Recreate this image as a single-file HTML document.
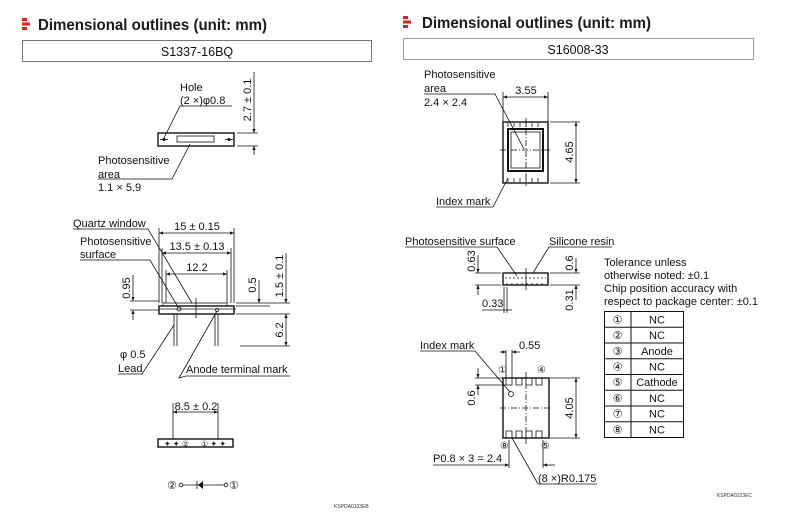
<!DOCTYPE html>
<html><head><style>
body{margin:0;background:#fff;}
svg{display:block;font-family:"Liberation Sans","DejaVu Sans",sans-serif;}
.t{font-size:11px;fill:#111;}
.h{font-size:15.5px;font-weight:bold;fill:#1a1a1a;font-family:"Liberation Sans",sans-serif;}
.l{stroke:#111;stroke-width:0.8;fill:none;}
.b{stroke:#111;stroke-width:1.4;fill:none;}
.tc{font-size:11px;fill:#111;text-anchor:middle;}
</style></head><body>
<svg width="792" height="518" viewBox="0 0 792 518">
<defs>
<marker id="a" markerWidth="6" markerHeight="6" refX="5" refY="3" orient="auto"><path d="M0,1 L5,3 L0,5 Z" fill="#111"/></marker>
<marker id="s" markerWidth="6" markerHeight="6" refX="1" refY="3" orient="auto"><path d="M6,1 L1,3 L6,5 Z" fill="#111"/></marker>
</defs>
<!-- headers -->
<rect x="22" y="18" width="5" height="3" fill="#d22"/><rect x="22" y="22.5" width="8" height="3" fill="#d22"/><rect x="22" y="27" width="5" height="3" fill="#d22"/>
<text x="38" y="30" class="h" textLength="229" lengthAdjust="spacingAndGlyphs">Dimensional outlines (unit: mm)</text>
<rect x="22.5" y="40.5" width="349" height="21" fill="none" stroke="#777"/>
<text x="197" y="56" class="tc" style="font-size:12.5px">S1337-16BQ</text>
<rect x="403" y="16" width="5" height="3" fill="#d22"/><rect x="403" y="20.5" width="8" height="3" fill="#d22"/><rect x="403" y="25" width="5" height="3" fill="#d22"/>
<text x="422" y="28" class="h" textLength="229" lengthAdjust="spacingAndGlyphs">Dimensional outlines (unit: mm)</text>
<rect x="403.5" y="38.5" width="350" height="21" fill="none" stroke="#999"/>
<text x="578" y="54" class="tc" style="font-size:12.5px">S16008-33</text>

<!-- LEFT top view -->
<rect x="158" y="133" width="76" height="13" class="b"/>
<rect x="177" y="136" width="37" height="6" class="l"/>
<circle cx="164" cy="139.5" r="1.5" fill="#111"/><circle cx="229" cy="139.5" r="1.5" fill="#111"/>
<line x1="160" y1="139.5" x2="168" y2="139.5" class="l"/><line x1="225" y1="139.5" x2="233" y2="139.5" class="l"/>
<text x="180" y="91" class="t">Hole</text>
<text x="180" y="104" class="t">(2 ×)φ0.8</text>
<polyline points="232,106 180,106 164,138" class="l"/>
<text x="98" y="164" class="t">Photosensitive</text>
<text x="98" y="178" class="t">area</text>
<text x="98" y="191" class="t">1.1 × 5.9</text>
<polyline points="98,179 172,179 190,144" class="l"/>
<line x1="237" y1="133" x2="258" y2="133" class="l"/><line x1="237" y1="146" x2="258" y2="146" class="l"/>
<line x1="254" y1="72" x2="254" y2="133" class="l" marker-end="url(#a)"/>
<line x1="254" y1="155" x2="254" y2="146" class="l" marker-end="url(#a)"/>
<text transform="translate(251,100) rotate(-90)" class="tc">2.7 ± 0.1</text>

<!-- LEFT side view -->
<rect x="159" y="306" width="75" height="8" class="b"/>
<rect x="163" y="303" width="64" height="3" class="l"/>
<line x1="159" y1="309" x2="236" y2="309" class="l"/>
<circle cx="179" cy="309" r="2" class="l"/><circle cx="217" cy="310" r="1.5" class="l"/>
<line x1="174" y1="314" x2="174" y2="346" class="l"/><line x1="177" y1="314" x2="177" y2="346" class="l"/>
<line x1="215" y1="314" x2="215" y2="346" class="l"/><line x1="218" y1="314" x2="218" y2="346" class="l"/>
<line x1="196" y1="298" x2="196" y2="318" class="l"/>
<line x1="159" y1="228" x2="159" y2="303" class="l"/><line x1="234" y1="228" x2="234" y2="303" class="l"/>
<line x1="162" y1="248" x2="162" y2="303" class="l"/><line x1="231" y1="248" x2="231" y2="303" class="l"/>
<line x1="166" y1="270" x2="166" y2="303" class="l"/><line x1="227" y1="270" x2="227" y2="303" class="l"/>
<line x1="159" y1="233" x2="234" y2="233" class="l" marker-start="url(#s)" marker-end="url(#a)"/>
<line x1="162" y1="253" x2="231" y2="253" class="l" marker-start="url(#s)" marker-end="url(#a)"/>
<line x1="166" y1="274" x2="227" y2="274" class="l" marker-start="url(#s)" marker-end="url(#a)"/>
<text x="197" y="230" class="tc">15 ± 0.15</text>
<text x="197" y="250" class="tc">13.5 ± 0.13</text>
<text x="197" y="271" class="tc">12.2</text>
<text x="73" y="227" class="t">Quartz window</text>
<polyline points="73,229 148,229 192,303" class="l"/>
<text x="80" y="245" class="t">Photosensitive</text>
<text x="80" y="258" class="t">surface</text>
<polyline points="80,260 150,260 178,307" class="l"/>
<line x1="130" y1="301" x2="159" y2="301" class="l"/><line x1="130" y1="310" x2="159" y2="310" class="l"/>
<line x1="133" y1="275" x2="133" y2="301" class="l" marker-end="url(#a)"/>
<line x1="133" y1="320" x2="133" y2="310" class="l" marker-end="url(#a)"/>
<text transform="translate(130,288) rotate(-90)" class="tc">0.95</text>
<line x1="236" y1="303" x2="290" y2="303" class="l"/><line x1="236" y1="306" x2="270" y2="306" class="l"/><line x1="236" y1="314" x2="290" y2="314" class="l"/>
<line x1="240" y1="346" x2="290" y2="346" class="l"/>
<line x1="259" y1="280" x2="259" y2="303" class="l" marker-end="url(#a)"/>
<text transform="translate(256,285) rotate(-90)" class="tc">0.5</text>
<line x1="286" y1="253" x2="286" y2="303" class="l" marker-end="url(#a)"/>
<line x1="286" y1="346" x2="286" y2="314" class="l" marker-end="url(#a)" marker-start="url(#s)"/>
<text transform="translate(283,276) rotate(-90)" class="tc">1.5 ± 0.1</text>
<text transform="translate(283,330) rotate(-90)" class="tc">6.2</text>
<text x="120" y="358" class="t">φ 0.5</text>
<text x="118" y="372" class="t">Lead</text>
<polyline points="118,374 142,374 174,325" class="l"/>
<text x="186" y="373" class="t">Anode terminal mark</text>
<polyline points="290,376 186,376 179,378 217,311" class="l"/>

<!-- LEFT bottom view -->
<rect x="158" y="439" width="75" height="8" class="b"/>
<text x="164" y="446.5" style="font-size:8px" fill="#111">✦ ✦ ②</text>
<text x="201" y="446.5" style="font-size:8px" fill="#111">① ✦ ✦</text>
<line x1="173" y1="403" x2="173" y2="439" class="l"/><line x1="218" y1="403" x2="218" y2="439" class="l"/>
<line x1="173" y1="412" x2="218" y2="412" class="l" marker-start="url(#s)" marker-end="url(#a)"/>
<text x="196" y="410" class="tc">8.5 ± 0.2</text>
<text x="167" y="489" class="t">②</text><circle cx="181" cy="485" r="1.8" class="l"/>
<line x1="183" y1="485" x2="224" y2="485" class="l"/>
<path d="M197,481 L197,489 L202,485 Z" fill="#111" transform="rotate(180 200 485)"/><line x1="197" y1="481" x2="197" y2="489" class="l"/>
<circle cx="226" cy="485" r="1.8" class="l"/><text x="229" y="489" class="t">①</text>
<text x="334" y="508" style="font-size:5px" fill="#333">KSPDA0103EB</text>

<!-- RIGHT top view -->
<rect x="503" y="122" width="45" height="61" class="b"/>
<rect x="508" y="129" width="35" height="42" fill="none" stroke="#111" stroke-width="2"/>
<rect x="511" y="132" width="29" height="36" class="l"/>
<line x1="500" y1="150" x2="552" y2="150" class="l" stroke-dasharray="6,2,1,2"/>
<line x1="526" y1="118" x2="526" y2="186" class="l" stroke-dasharray="6,2,1,2"/>
<path d="M508,123 v4 M514,123 v4 M520,123 v4 M526,123 v4 M532,123 v4 M538,123 v4 M508,178 v4 M514,178 v4 M520,178 v4 M526,178 v4 M532,178 v4 M538,178 v4" class="l"/>
<line x1="503" y1="92" x2="503" y2="122" class="l"/><line x1="548" y1="92" x2="548" y2="122" class="l"/>
<line x1="503" y1="97" x2="548" y2="97" class="l" marker-start="url(#s)" marker-end="url(#a)"/>
<text x="526" y="94" class="tc">3.55</text>
<line x1="550" y1="122" x2="580" y2="122" class="l"/><line x1="550" y1="183" x2="580" y2="183" class="l"/>
<line x1="576" y1="122" x2="576" y2="183" class="l" marker-start="url(#s)" marker-end="url(#a)"/>
<text transform="translate(573,152) rotate(-90)" class="tc">4.65</text>
<text x="424" y="78" class="t">Photosensitive</text>
<text x="424" y="92" class="t">area</text>
<text x="424" y="106" class="t">2.4 × 2.4</text>
<polyline points="424,94 495,94 524,149" class="l"/>
<text x="436" y="205" class="t">Index mark</text>
<polyline points="436,207 493,207 508,178" class="l"/>

<!-- RIGHT side view -->
<rect x="503" y="273" width="45" height="12" class="b"/>
<line x1="505" y1="278" x2="546" y2="278" class="l" stroke-dasharray="2,2"/>
<path d="M507,283 v2 M512,283 v2 M517,283 v2 M522,283 v2 M527,283 v2 M532,283 v2 M537,283 v2 M542,283 v2" class="l"/>
<line x1="526" y1="268" x2="526" y2="290" class="l"/>
<text x="405" y="245" class="t">Photosensitive surface</text>
<polyline points="405,247 497,247 517,276" class="l"/>
<text x="549" y="245" class="t">Silicone resin</text>
<polyline points="612,247 549,247 533,273" class="l"/>
<line x1="475" y1="273" x2="501" y2="273" class="l"/><line x1="475" y1="285" x2="501" y2="285" class="l"/>
<line x1="478" y1="255" x2="478" y2="273" class="l" marker-end="url(#a)"/>
<line x1="478" y1="295" x2="478" y2="285" class="l" marker-end="url(#a)"/>
<text transform="translate(475,261) rotate(-90)" class="tc">0.63</text>
<line x1="550" y1="273" x2="580" y2="273" class="l"/><line x1="550" y1="285" x2="580" y2="285" class="l"/>
<line x1="576" y1="258" x2="576" y2="273" class="l" marker-end="url(#a)"/>
<line x1="576" y1="300" x2="576" y2="285" class="l" marker-end="url(#a)"/>
<text transform="translate(573,263) rotate(-90)" class="tc">0.6</text>
<text transform="translate(573,300) rotate(-90)" class="tc">0.31</text>
<line x1="504" y1="287" x2="504" y2="313" class="l"/><line x1="507" y1="287" x2="507" y2="313" class="l"/>
<text x="482" y="307" class="t">0.33</text>
<line x1="482" y1="310" x2="512" y2="310" class="l"/>

<!-- RIGHT bottom view -->
<rect x="503" y="378" width="46" height="60" class="b"/>
<path d="M506,378 v7 h6 v-7 M516,378 v7 h6 v-7 M526,378 v7 h6 v-7 M536,378 v7 h6 v-7 M506,438 v-7 h6 v7 M516,438 v-7 h6 v7 M526,438 v-7 h6 v7 M536,438 v-7 h6 v7" class="l"/>
<line x1="500" y1="408" x2="552" y2="408" class="l" stroke-dasharray="6,2,1,2"/>
<line x1="526" y1="372" x2="526" y2="444" class="l" stroke-dasharray="6,2,1,2"/>
<circle cx="511" cy="394" r="2.5" class="l"/>
<text x="420" y="349" class="t">Index mark</text>
<polyline points="420,351 475,351 510,392" class="l"/>
<line x1="506" y1="350" x2="506" y2="378" class="l"/><line x1="512" y1="350" x2="512" y2="378" class="l"/>
<line x1="500" y1="352" x2="506" y2="352" class="l" marker-end="url(#a)"/>
<line x1="520" y1="352" x2="512" y2="352" class="l" marker-end="url(#a)"/>
<text x="519" y="349" class="t">0.55</text>
<text x="498" y="373" class="t" style="font-size:10px">①</text>
<text x="537" y="373" class="t" style="font-size:10px">④</text>
<line x1="475" y1="378" x2="503" y2="378" class="l"/><line x1="475" y1="385" x2="506" y2="385" class="l"/>
<line x1="478" y1="368" x2="478" y2="378" class="l" marker-end="url(#a)"/>
<line x1="478" y1="395" x2="478" y2="385" class="l" marker-end="url(#a)"/>
<text transform="translate(475,398) rotate(-90)" class="tc">0.6</text>
<line x1="550" y1="378" x2="580" y2="378" class="l"/><line x1="550" y1="438" x2="580" y2="438" class="l"/>
<line x1="576" y1="378" x2="576" y2="438" class="l" marker-start="url(#s)" marker-end="url(#a)"/>
<text transform="translate(573,408) rotate(-90)" class="tc">4.05</text>
<text x="500" y="449" class="t" style="font-size:10px">⑧</text>
<text x="541" y="449" class="t" style="font-size:10px">⑤</text>
<line x1="509" y1="440" x2="509" y2="468" class="l"/><line x1="543" y1="440" x2="543" y2="468" class="l"/>
<text x="433" y="462" class="t">P0.8 × 3 = 2.4</text>
<line x1="433" y1="465" x2="509" y2="465" class="l" marker-end="url(#a)"/>
<line x1="555" y1="465" x2="543" y2="465" class="l" marker-end="url(#a)"/>
<text x="538" y="482" class="t">(8 ×)R0.175</text>
<polyline points="597,484 538,484 512,438" class="l"/>

<!-- Tolerance + table -->
<text x="604" y="266" class="t">Tolerance unless</text>
<text x="604" y="279" class="t">otherwise noted: ±0.1</text>
<text x="604" y="292" class="t">Chip position accuracy with</text>
<text x="604" y="305" class="t">respect to package center: ±0.1</text>
<g stroke="#111" stroke-width="1" fill="none">
<rect x="604.5" y="311.5" width="79" height="126"/>
<line x1="631" y1="311" x2="631" y2="438"/>
<line x1="604" y1="327.25" x2="684" y2="327.25"/><line x1="604" y1="343" x2="684" y2="343"/>
<line x1="604" y1="358.75" x2="684" y2="358.75"/><line x1="604" y1="374.5" x2="684" y2="374.5"/>
<line x1="604" y1="390.25" x2="684" y2="390.25"/><line x1="604" y1="406" x2="684" y2="406"/>
<line x1="604" y1="421.75" x2="684" y2="421.75"/>
</g>
<g class="tc">
<text x="617.5" y="323.5">①</text><text x="657" y="323.5">NC</text>
<text x="617.5" y="339">②</text><text x="657" y="339">NC</text>
<text x="617.5" y="355">③</text><text x="657" y="355">Anode</text>
<text x="617.5" y="370.5">④</text><text x="657" y="370.5">NC</text>
<text x="617.5" y="386">⑤</text><text x="657" y="386">Cathode</text>
<text x="617.5" y="402">⑥</text><text x="657" y="402">NC</text>
<text x="617.5" y="417.5">⑦</text><text x="657" y="417.5">NC</text>
<text x="617.5" y="433.5">⑧</text><text x="657" y="433.5">NC</text>
</g>
<text x="717" y="497" style="font-size:5px" fill="#333">KSPDA0223EC</text>
</svg>
</body></html>
